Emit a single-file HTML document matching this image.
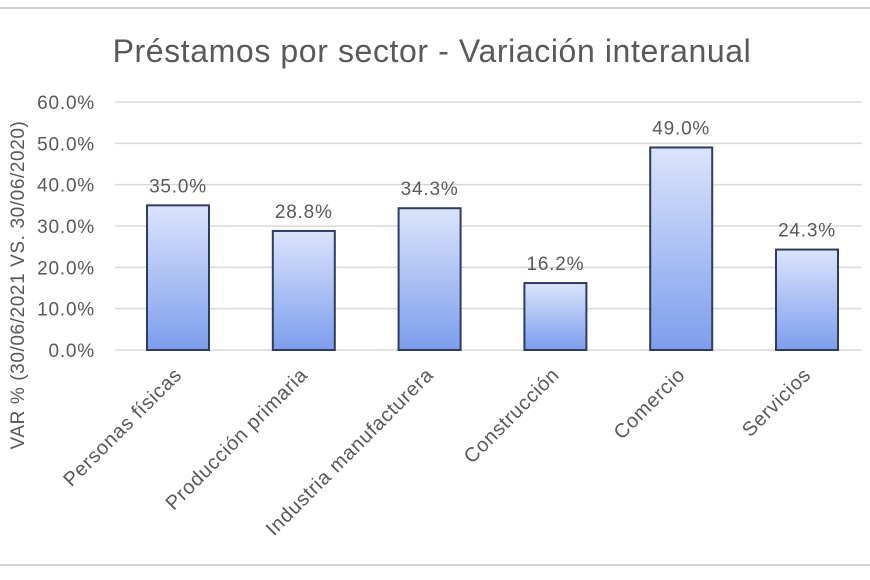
<!DOCTYPE html>
<html><head><meta charset="utf-8"><style>
body{margin:0;background:#fff;}
svg{display:block;font-family:"Liberation Sans","DejaVu Sans",sans-serif;}
</style></head><body>
<svg id="chart" width="870" height="580" viewBox="0 0 870 580">
<defs><linearGradient id="g" x1="0" y1="0" x2="0" y2="1"><stop offset="0" stop-color="#dbe4fb"/><stop offset="1" stop-color="#7d9ded"/></linearGradient></defs>
<line x1="0" y1="8" x2="870" y2="8" stroke="#d4d4d4" stroke-width="2"/>
<line x1="0" y1="565" x2="870" y2="565" stroke="#d4d4d4" stroke-width="2"/>
<text x="432" y="62" text-anchor="middle" font-size="32" letter-spacing="0.6" fill="#595959">Préstamos por sector - Variación interanual</text>
<text transform="translate(24,285) rotate(-90)" text-anchor="middle" font-size="19" letter-spacing="0.6" fill="#595959">VAR % (30/06/2021 VS. 30/06/2020)</text>
<g id="grid"></g><g id="bars"></g>
</svg>
<script>
const categories=["Personas físicas","Producción primaria","Industria manufacturera","Construcción","Comercio","Servicios"];
const values=[35.0,28.8,34.3,16.2,49.0,24.3];
const ticks=[0,10,20,30,40,50,60];
const NS="http://www.w3.org/2000/svg";
const y=v=>350-v*(248/60);
const x=i=>178+i*125.8;
function mk(t,a,p){const e=document.createElementNS(NS,t);for(const k in a)e.setAttribute(k,a[k]);p.appendChild(e);return e;}
const grid=document.getElementById('grid'),bars=document.getElementById('bars');
ticks.forEach(t=>{
 const l=mk('line',{x1:115,x2:862,y1:y(t),y2:y(t),stroke:'#d9d9d9','stroke-width':1.5},grid);
 
 
 const tx=mk('text',{x:95,y:y(t)+7,'text-anchor':'end','font-size':19,'letter-spacing':0.8,fill:'#595959'},grid);
 tx.textContent=t.toFixed(1)+'%';
 
 
});
values.forEach((v,i)=>{
 const r=mk('rect',{x:x(i)-31,y:y(v),width:62,height:y(0)-y(v),fill:'url(#g)',stroke:'#2e3d5e','stroke-width':2},bars);
 
 
 const lb=mk('text',{x:x(i),y:y(v)-13,'text-anchor':'middle','font-size':19,'letter-spacing':0.8,fill:'#595959'},bars);
 lb.textContent=v.toFixed(1)+'%';
 
 
 const c=mk('text',{transform:`translate(${x(i)+5},${376}) rotate(-45)`,'text-anchor':'end','font-size':20,'letter-spacing':0.7,fill:'#595959'},bars);
 c.textContent=categories[i];
 
 
});
</script>
</body></html>
